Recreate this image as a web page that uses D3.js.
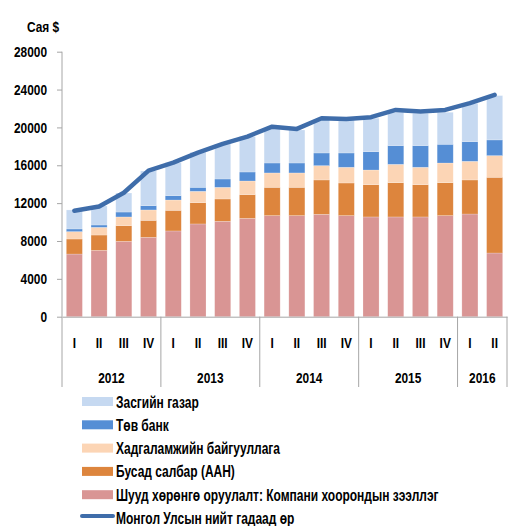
<!DOCTYPE html>
<meta charset="utf-8">
<script src="https://cdn.jsdelivr.net/npm/d3@7"></script>
<style>
body { margin: 0; background: #fff; }
svg text { font-family: "Liberation Sans Narrow", "Arial Narrow", "Liberation Sans", sans-serif; font-weight: bold; fill: #000; }
</style>
<body>
<script>

var width = 517
var height = 526

// data (сая $)
var years = ["2012", "2013", "2014", "2015", "2016"]
var quartersPerYear = [4, 4, 4, 4, 2]
var quarterNames = ["I", "II", "III", "IV"]

var fdi        = [6620, 7010, 7960, 8390, 9060, 9800, 10080, 10390, 10680, 10680, 10820, 10680, 10540, 10540, 10540, 10680, 10850, 6730]
var otherSect  = [1590, 1620, 1660, 1790, 2180, 2250, 2360, 2510, 2990, 2990, 3630, 3450, 3410, 3620, 3410, 3480, 3600, 8000]
var deposit    = [780, 810, 920, 1100, 1090, 1200, 1230, 1440, 1520, 1520, 1510, 1660, 1550, 1940, 1840, 2080, 1970, 2290]
var centralBnk = [280, 250, 520, 450, 460, 420, 880, 950, 1050, 1050, 1340, 1510, 1940, 1980, 2290, 1980, 2080, 1660]
var government = [2010, 2010, 2010, 3670, 3490, 3700, 3700, 3740, 3670, 3490, 3560, 3560, 3530, 3520, 3410, 3380, 4050, 4680]
var totalDebt  = [11200, 11650, 13100, 15430, 16280, 17340, 18260, 19030, 20080, 19840, 20970, 20900, 21080, 21850, 21670, 21850, 22560, 23440]

var yTicks = [0, 4000, 8000, 12000, 16000, 20000, 24000, 28000]

var seriesNames = ["Шууд хөрөнгө оруулалт: Компани хоорондын зээллэг", "Бусад салбар (ААН)", "Хадгаламжийн байгууллага", "Төв банк", "Засгийн газар"]
var seriesKeys = ["fdi", "other", "deposit", "cb", "gov"]
var seriesColors = ["#d99594", "#dd853d", "#fcd5b5", "#558ed5", "#c6d9f1"]
var lineName = "Монгол Улсын нийт гадаад өр"
var lineColor = "#3f6daa"

// periods
var periods = []
var periodQuarter = []
years.forEach(function(yr, j) {
  for (var q = 0; q < quartersPerYear[j]; q++) {
    periods.push(yr + "-" + quarterNames[q])
    periodQuarter.push(quarterNames[q])
  }
})

var table = periods.map(function(p, i) {
  return {period: p, fdi: fdi[i], other: otherSect[i], deposit: deposit[i], cb: centralBnk[i], gov: government[i], total: totalDebt[i]}
})

var x = d3.scaleBand().domain(periods).range([62, 507]).paddingInner(0.35).paddingOuter(0.175)
var y = d3.scaleLinear().domain([0, 28000]).range([316.7, 51.7])

var svg = d3.select("body").append("svg")
            .attr("width", width)
            .attr("height", height)

// stacked bars
var stack = d3.stack().keys(seriesKeys)(table)

svg.append("g").attr("id", "bars")
   .selectAll("g").data(stack).enter().append("g")
   .attr("fill", function(d, i) { return seriesColors[i] })
   .selectAll("rect").data(function(d) { return d }).enter().append("rect")
   .attr("x", function(d) { return x(d.data.period) })
   .attr("width", x.bandwidth())
   .attr("y", function(d) { return y(d[1]) })
   .attr("height", function(d) { return y(d[0]) - y(d[1]) })
   .attr("stroke", "#fff")
   .attr("stroke-opacity", 0.35)
   .attr("stroke-width", 0.6)

// total line
var line = d3.line()
  .x(function(d) { return x(d.period) + x.bandwidth() / 2 })
  .y(function(d) { return y(d.total) })

svg.append("path")
   .attr("d", line(table))
   .attr("fill", "none")
   .attr("stroke", lineColor)
   .attr("stroke-width", 4.5)
   .attr("stroke-linejoin", "round")
   .attr("stroke-linecap", "round")

// y axis
var yAxis = svg.append("g")
    .attr("transform", "translate(62,0)")
    .call(d3.axisLeft(y).tickValues(yTicks).tickSize(5).tickSizeOuter(0).tickPadding(10).tickFormat(d3.format("d")))
yAxis.selectAll("path, line").attr("stroke", "#a6a6a6")
yAxis.selectAll("text").style("font-size", "14.5px")
yAxis.select(".domain").attr("d", "M0," + y(28000) + "V" + y(0))

svg.append("text")
   .attr("x", 27)
   .attr("y", 32)
   .style("font-size", "14.5px")
   .text("Сая $")

// x axis: quarters
var xAxis = svg.append("g")
    .attr("transform", "translate(0," + y(0) + ")")
    .call(d3.axisBottom(x).tickSize(0).tickPadding(21).tickFormat(function(d, i) { return periodQuarter[i] }))
xAxis.select(".domain").attr("stroke", "#a6a6a6")
xAxis.selectAll("text").style("font-size", "14.5px")

// year groups
var gap = (x.step() - x.bandwidth()) / 2
var bounds = []
var start = 0
years.forEach(function(yr, j) {
  var a = x(periods[start]) - gap
  var b = x(periods[start + quartersPerYear[j] - 1]) + x.bandwidth() + gap
  bounds.push([a, b, yr])
  start += quartersPerYear[j]
})

var sep = []
bounds.forEach(function(b, j) { sep.push(b[0]); if (j == bounds.length - 1) sep.push(b[1]) })

svg.append("g").selectAll("line").data(sep).enter().append("line")
   .attr("x1", function(d) { return d }).attr("x2", function(d) { return d })
   .attr("y1", y(0)).attr("y2", 387)
   .attr("stroke", "#a6a6a6")

svg.append("g").selectAll("text").data(bounds).enter().append("text")
   .attr("x", function(d) { return (d[0] + d[1]) / 2 })
   .attr("y", 383)
   .attr("text-anchor", "middle")
   .style("font-size", "14.5px")
   .text(function(d) { return d[2] })

// legend
var legendItems = []
for (var k = seriesNames.length - 1; k >= 0; k--) legendItems.push({name: seriesNames[k], color: seriesColors[k], type: "rect"})
legendItems.push({name: lineName, color: lineColor, type: "line"})

var legend = svg.append("g").attr("id", "legend")
var rows = legend.selectAll("g").data(legendItems).enter().append("g")
   .attr("transform", function(d, i) { return "translate(82," + (401.5 + i * 23.3) + ")" })

rows.filter(function(d) { return d.type == "rect" }).append("rect")
   .attr("x", 0).attr("y", -4.5).attr("width", 31).attr("height", 9)
   .attr("fill", function(d) { return d.color })
rows.filter(function(d) { return d.type == "line" }).append("line")
   .attr("x1", 0).attr("x2", 31).attr("y1", -2).attr("y2", -2)
   .attr("stroke", function(d) { return d.color })
   .attr("stroke-width", 4)
   .attr("stroke-linecap", "round")
rows.append("text")
   .attr("class", "legend-text")
   .attr("x", 34)
   .attr("y", 6)
   .style("font-size", "16px")
   .text(function(d) { return d.name })

// no narrow font installed: squeeze each text horizontally around its anchor point
svg.selectAll("text").each(function() {
  var squeeze = this.getAttribute("class") == "legend-text" ? 0.75 : 0.82
  var ax = +(this.getAttribute("x") || 0)
  d3.select(this).attr("transform", "translate(" + ax + ",0) scale(" + squeeze + ",1) translate(" + (-ax) + ",0)")
})

</script>
</body>
